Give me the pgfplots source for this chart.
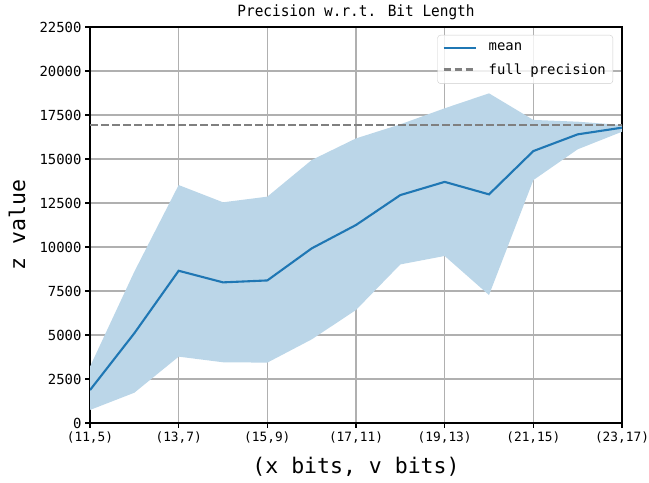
\documentclass[border=0pt]{standalone}
\usepackage{fontspec}
\setmainfont{DejaVu Sans Mono}
\newfontfamily\titlefont{DejaVu Sans Mono}[FakeStretch=0.93]
\usepackage{pgfplots}
\pgfplotsset{compat=1.18}
\usepgfplotslibrary{fillbetween}
\definecolor{mplblue}{HTML}{1F77B4}
\definecolor{gridgray}{HTML}{B0B0B0}
\definecolor{bandblue}{HTML}{BBD6E8}

\pgfplotstableread{
x mean upper lower
0  1870  3200   740
1  5100  8600  1720
2  8650 13520  3770
3  7990 12540  3450
4  8100 12860  3430
5  9920 14940  4750
6 11250 16170  6420
7 12950 16970  9010
8 13700 17880  9490
9 12990 18730  7270
10 15450 17220 13800
11 16400 17120 15550
12 16780 16930 16550
}\datatable

\begin{document}
\begin{tikzpicture}
\begin{axis}[
  name=ax,
  scale only axis, width=532pt, height=396pt,
  xmin=0, xmax=12, ymin=0, ymax=22500,
  xtick={0,2,...,12},
  xticklabels={(11,5),(13,7),(15,9),(17,11),(19,13),(21,15),(23,17)},
  ytick={0,2500,...,22500},
  scaled y ticks=false,
  /pgf/number format/1000 sep={},
  /pgf/number format/assume math mode=true,
  grid=major,
  major grid style={gridgray, line width=1.1pt},
  axis line style={black, line width=1.1pt},
  every tick/.style={black, line width=1.1pt},
  tick align=outside, major tick length=5pt,
  xtick pos=left, ytick pos=left,
  yticklabel style={font=\fontsize{13.9}{16}\selectfont},
  xticklabel style={font=\fontsize{12.8}{16}\selectfont},
  title={Precision w.r.t. Bit Length},
  every axis title shift=0pt,
  title style={at={(axis description cs:0.5,1.0253)}, anchor=base, font=\titlefont\fontsize{15.5}{18}\selectfont},
  xlabel={(x bits, v bits)},
  xlabel style={at={(axis description cs:0.5,-0.1263)}, anchor=base, font=\fontsize{21.5}{24}\selectfont},
  ylabel={z value},
  ylabel style={at={(axis description cs:-0.137,0.5)}, anchor=center, font=\fontsize{21.5}{24}\selectfont},
  legend style={at={(axis description cs:1,1)}, xshift=-9pt, yshift=-8pt, anchor=north east,
    draw=black!20, rounded corners=3pt, fill=white, fill opacity=0.8, draw opacity=1, text opacity=1,
    font=\fontsize{13.9}{16}\selectfont, row sep=7pt, column sep=10pt, inner xsep=5pt, inner ysep=6pt},
  legend cell align=left,
  legend image code/.code={\draw[#1] (0pt,0pt) -- (32pt,0pt);},
]
\addplot[name path=upper, draw=none, forget plot] table[x=x, y=upper] {\datatable};
\addplot[name path=lower, draw=none, forget plot] table[x=x, y=lower] {\datatable};
\addplot[fill=bandblue, draw=none, forget plot] fill between[of=upper and lower];
\addplot[mplblue, line width=2.1pt] table[x=x, y=mean] {\datatable};
\addlegendentry{mean}
\addplot[gray, line width=2.1pt, dash pattern=on 7.7pt off 3.3pt] coordinates {(0,16930) (12,16930)};
\addlegendentry{full precision}
\end{axis}
\pgfresetboundingbox
\path[use as bounding box] ([shift={(-90pt,-60pt)}]ax.south west) rectangle ([shift={(27pt,27pt)}]ax.north east);
\end{tikzpicture}
\end{document}
